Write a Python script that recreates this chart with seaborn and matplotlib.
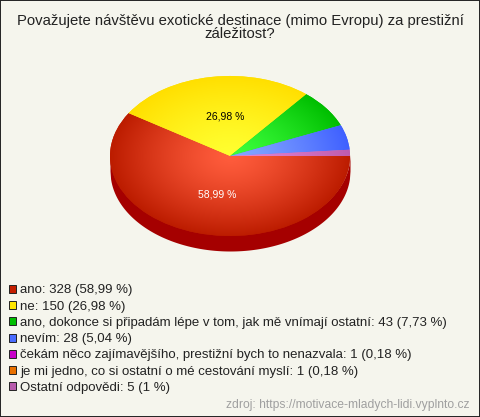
import numpy as np
import matplotlib
matplotlib.use("Agg")
import matplotlib.pyplot as plt
from matplotlib.colors import LinearSegmentedColormap
from matplotlib.patches import Patch, Rectangle
import seaborn as sns

title = "Považujete návštěvu exotické destinace (mimo Evropu) za prestižní\nzáležitost?"
slice_names = ["ano", "ne", "ano, dokonce", "nevím", "ostatní"]
slice_values = [328, 150, 43, 28, 7]
slice_labels = ["58,99 %", "26,98 %", "", "", ""]
inner_colors = ["#FF5C3C", "#FFFF30", "#3CFF3C", "#85A8FF", "#E485D4"]
outer_colors = ["#BC1C00", "#FFDF00", "#00BE00", "#3F60FF", "#BE5CAE"]
side_color = "#A50000"
legend_labels = [
    "ano: 328 (58,99 %)",
    "ne: 150 (26,98 %)",
    "ano, dokonce si připadám lépe v tom, jak mě vnímají ostatní: 43 (7,73 %)",
    "nevím: 28 (5,04 %)",
    "čekám něco zajímavějšího, prestižní bych to nenazvala: 1 (0,18 %)",
    "je mi jedno, co si ostatní o mé cestování myslí: 1 (0,18 %)",
    "Ostatní odpovědi: 5 (1 %)",
]
legend_colors = ["#C41E00", "#FFE600", "#00BE00", "#4A6CFF", "#C800C8", "#E87000", "#B85CAC"]
source = "zdroj: https://motivace-mladych-lidi.vyplnto.cz"

BG = "#F5F5ED"
W, H = 480, 417
CX, CY, RX, RY, DEPTH = 230, 156, 120, 80, 15

sns.set_theme(style="white")
plt.rcParams["font.family"] = ["Liberation Sans", "DejaVu Sans"]

fig = plt.figure(figsize=(W / 100, H / 100), dpi=100, facecolor=BG)
ax = fig.add_axes([0, 0, 1, 1], facecolor=BG)

wedges, _ = ax.pie(slice_values, colors=sns.color_palette(outer_colors), startangle=0,
                   counterclock=False, radius=1, center=(0, 0),
                   wedgeprops={"linewidth": 0, "antialiased": True})
ax.set_aspect("auto")
xlim = (-CX / RX, (W - CX) / RX)
ylim = ((CY - H) / RY, CY / RY)
ax.set_xlim(xlim)
ax.set_ylim(ylim)
ax.axis("off")

# 3D side of the disc
xs = np.linspace(-1, 1, 400)
rim = -np.sqrt(1 - xs ** 2)
ax.fill_between(xs, rim + 0.02, rim - DEPTH / RY, color=side_color, linewidth=0, zorder=0.5)

# radial shading of each slice
gx, gy = np.meshgrid(np.linspace(-1.02, 1.02, 300), np.linspace(-1.02, 1.02, 300))
rr = np.clip(np.hypot(gx, gy), 0, 1) ** 1.3
for w, c0, c1 in zip(wedges, inner_colors, outer_colors):
    cmap = LinearSegmentedColormap.from_list("s", [c0, c1])
    im = ax.imshow(rr, cmap=cmap, vmin=0, vmax=1, extent=(-1.02, 1.02, -1.02, 1.02),
                   origin="lower", interpolation="bilinear", aspect="auto", zorder=1)
    im.set_clip_path(w)
ax.set_xlim(xlim)
ax.set_ylim(ylim)
ax.set_aspect("auto")

# value labels placed inside their slices
cum = np.cumsum(slice_values) / np.sum(slice_values)
starts = np.r_[0, cum[:-1]]
label_colors = ["white", "black", "black", "black", "black"]
for lab, s, e, col in zip(slice_labels, starts, cum, label_colors):
    if not lab:
        continue
    a = -2 * np.pi * (s + e) / 2
    ax.annotate(lab, (0.5 * np.cos(a), 0.5 * np.sin(a)), xytext=(3, 0), textcoords="offset points",
                ha="center", va="center", color=col, fontsize=7.5, zorder=3)

fig.text(0.5, 1 - 13.5 / H, title, ha="center", va="top", fontsize=10.7,
         color="#222222", linespacing=1.0)

handles = [Patch(facecolor=c, edgecolor="#222222", linewidth=0.7) for c in legend_colors]
ax.legend(handles, legend_labels, loc="upper left", bbox_to_anchor=(9 / W, 1 - 284.5 / H),
          bbox_transform=fig.transFigure, frameon=False, fontsize=9.55, labelcolor="#222222",
          handlelength=0.56, handleheight=0.56, handletextpad=0.3, labelspacing=0.32,
          borderaxespad=0, borderpad=0)

fig.text(1 - 10 / W, 1 - 405 / H, source, ha="right", va="center", fontsize=8.7, color="#A0A0A0")

fig.add_artist(Rectangle((0, 0), 1, 1, transform=fig.transFigure, fill=False,
                         edgecolor="#222222", linewidth=1.4))
fig.savefig("out.png", dpi=100, facecolor=BG)
